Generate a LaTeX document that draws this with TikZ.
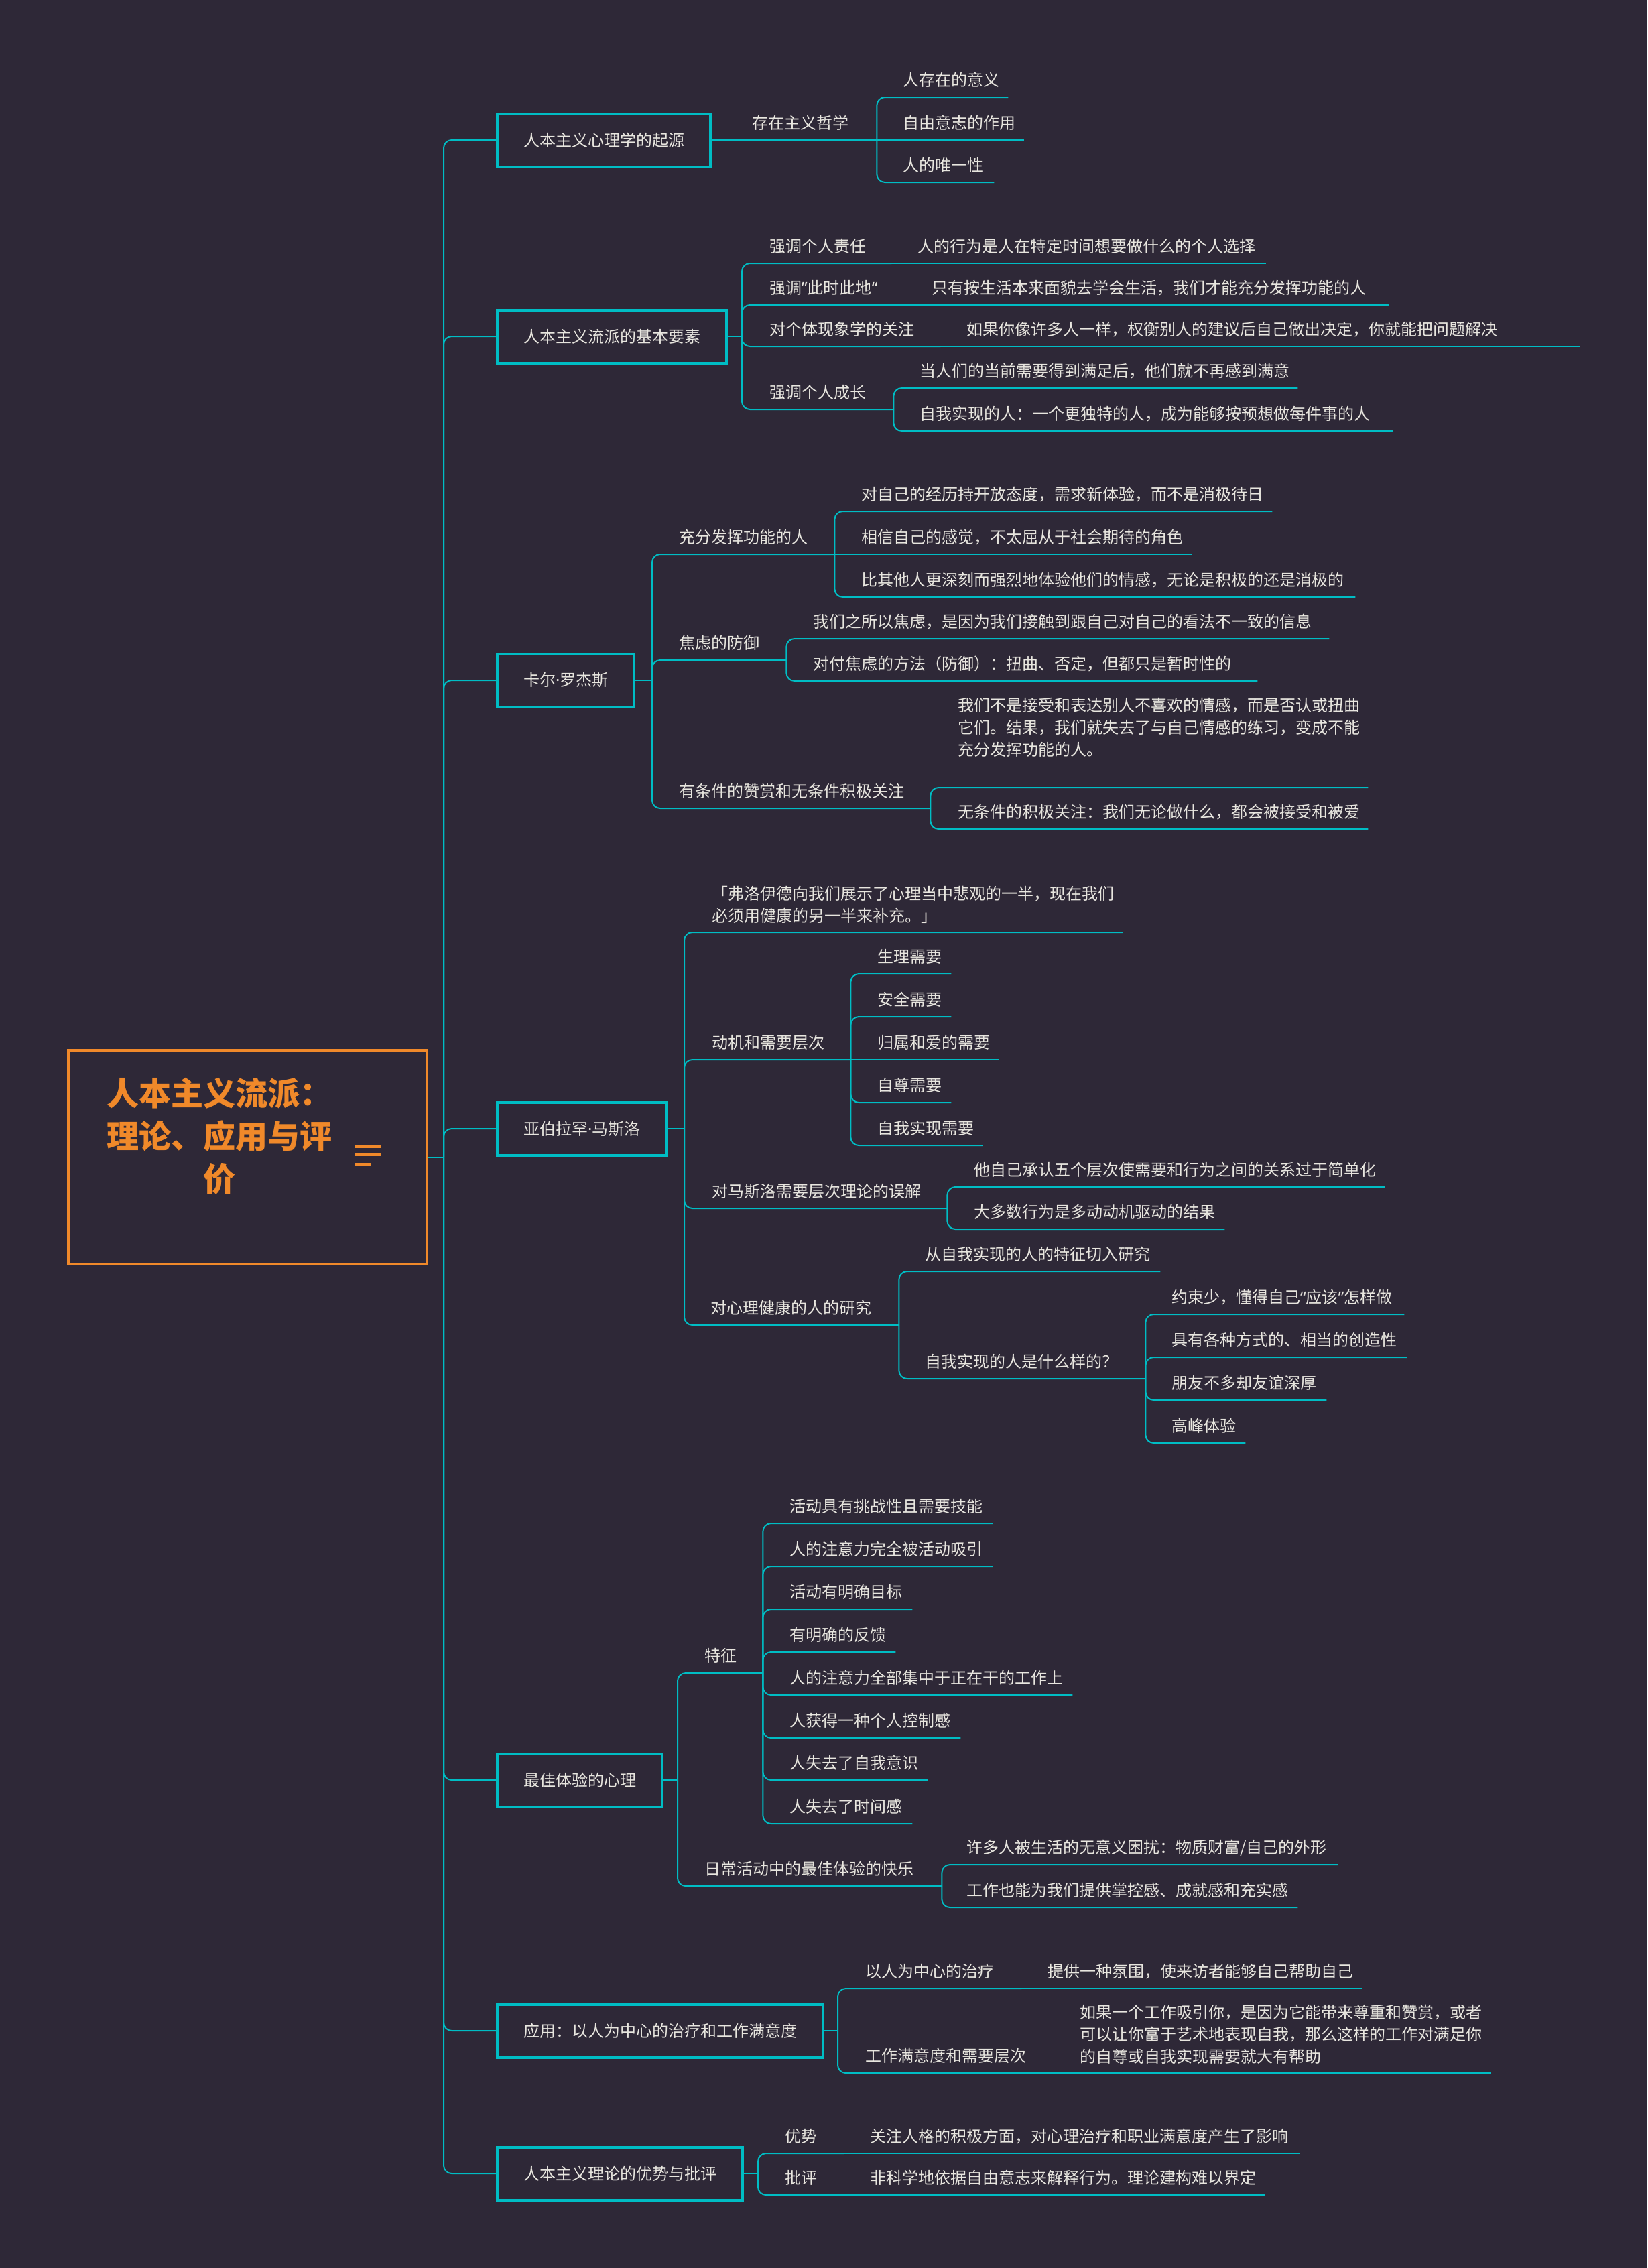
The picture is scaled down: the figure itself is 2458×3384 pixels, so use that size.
\documentclass[tikz,border=0pt]{standalone}
\usepackage{fontspec}
\usepackage{tikz}
\newfontfamily\cjk{Noto Sans CJK SC}
\newfontfamily\latf{Noto Sans}
\definecolor{mapbg}{HTML}{2E2837}
\definecolor{mapline}{HTML}{00BDC4}
\definecolor{maptext}{HTML}{E8E6DF}
\definecolor{maporange}{HTML}{F0892A}

\begin{document}
\begin{tikzpicture}[x=1pt, y=-1pt,
    link/.style={draw=mapline, line width=2pt, rounded corners=12pt},
    topic/.style={draw=mapline, line width=4pt, anchor=west, inner xsep=39pt, minimum height=79pt,
      text=maptext, font=\cjk\fontsize{24}{33}\selectfont},
    leaf/.style={anchor=south west, inner xsep=0pt, inner ysep=16pt, text depth=0pt, text width=#1,
      align=left, text=maptext, font=\cjk\fontsize{24}{33}\selectfont},
    para/.style={anchor=south west, inner xsep=0pt, inner ysep=13pt, text width=#1,
      align=left, text=maptext, font=\cjk\fontsize{24}{33}\selectfont}]
  \fill[mapbg] (0,0) rectangle (2458,3384);
  \useasboundingbox (0,0) rectangle (2458,3384);

  \node[draw=maporange, line width=4pt, minimum width=535pt, minimum height=319pt] (root) at (369.5,1726.5) {};
  \node[text=maporange, font=\cjk\bfseries\fontsize{48}{64}\selectfont, text width=340pt, align=center] (title) at (327,1695)
    {人本主义流派：\\理论、应用与评\\价};
  \draw[maporange, line width=4pt] (530,1711) -- (569,1711) (530,1723) -- (569,1723) (530,1737) -- (553,1737);

  \node[topic] (box1) at (740,209) {人本主义心理学的起源};
  \node[topic] (box2) at (740,502) {人本主义流派的基本要素};
  \node[topic] (box3) at (740,1015) {卡尔{\latf ·}罗杰斯};
  \node[topic] (box4) at (740,1684) {亚伯拉罕{\latf ·}马斯洛};
  \node[topic] (box5) at (740,2656) {最佳体验的心理};
  \node[topic] (box6) at (740,3030) {应用：以人为中心的治疗和工作满意度};
  \node[topic] (box7) at (740,3243) {人本主义理论的优势与批评};
  \coordinate (j0) at (662,1726.5);
  \draw[link] (root.east) -- (j0);
  \foreach \b in {1,...,7}
    \draw[link] (j0) |- (box\b.west);

  \node[leaf=186pt] (exist) at (1122,209) {存在主义哲学};
  \draw[link] (box1.east) -- (exist.south east);
  \foreach \n/\y/\w/\t in {1/145/157/人存在的意义, 2/209/181/自由意志的作用, 3/272/136/人的唯一性}
    \node[leaf=\w pt] (exist\n) at (1347,\y) {\t};
  \draw[link] (exist.south east) -- (exist2.south east);
  \foreach \n in {1,3}
    \draw[link] (exist.south east) |- (exist\n.south east);

  \coordinate (j2) at (1107,502);
  \draw[link] (box2.east) -- (j2);
  \node[leaf=182pt] (resp) at (1148,393) {强调个人责任};
  \node[leaf=520pt] (resp1) at (1369,393) {人的行为是人在特定时间想要做什么的个人选择};
  \node[leaf=203pt] (now) at (1148,455) {强调{\latf ”}此时此地{\latf “}};
  \node[leaf=682pt] (now1) at (1390,455) {只有按生活本来面貌去学会生活，我们才能充分发挥功能的人};
  \node[leaf=255pt] (phen) at (1148,517) {对个体现象学的关注};
  \node[leaf=915pt] (phen1) at (1442,517) {如果你像许多人一样，权衡别人的建议后自己做出决定，你就能把问题解决};
  \node[leaf=185pt] (grow) at (1148,611) {强调个人成长};
  \node[leaf=564pt] (grow1) at (1372,579) {当人们的当前需要得到满足后，他们就不再感到满意};
  \node[leaf=706pt] (grow2) at (1372,643) {自我实现的人：一个更独特的人，成为能够按预想做每件事的人};
  \foreach \c in {resp,now,phen,grow}
    \draw[link] (j2) |- (\c.south east);
  \foreach \c in {resp,now,phen}
    \draw[link] (\c.south east) -- (\c1.south east);
  \draw[link] (grow.south east) |- (grow1.south east);
  \draw[link] (grow.south east) |- (grow2.south east);

  \coordinate (j3) at (973,1015);
  \draw[link] (box3.east) -- (j3);
  \node[leaf=232pt] (func) at (1013,827) {充分发挥功能的人};
  \node[leaf=613pt] (func1) at (1285,763) {对自己的经历持开放态度，需求新体验，而不是消极待日};
  \node[leaf=493pt] (func2) at (1285,827) {相信自己的感觉，不太屈从于社会期待的角色};
  \node[leaf=737pt] (func3) at (1285,891) {比其他人更深刻而强烈地体验他们的情感，无论是积极的还是消极的};
  \node[leaf=160pt] (anx) at (1013,985) {焦虑的防御};
  \node[leaf=770pt] (anx1) at (1213,953) {我们之所以焦虑，是因为我们接触到跟自己对自己的看法不一致的信息};
  \node[leaf=663pt] (anx2) at (1213,1016) {对付焦虑的方法（防御）：扭曲、否定，但都只是暂时性的};
  \node[leaf=375pt] (cond) at (1013,1206) {有条件的赞赏和无条件积极关注};
  \node[para=612pt, inner ysep=45pt] (cond1) at (1429,1175)
    {我们不是接受和表达别人不喜欢的情感，而是否认或扭曲\\它们。结果，我们就失去了与自己情感的练习，变成不能\\充分发挥功能的人。};
  \node[leaf=612pt] (cond2) at (1429,1237) {无条件的积极关注：我们无论做什么，都会被接受和被爱};
  \foreach \c in {func,anx,cond}
    \draw[link] (j3) |- (\c.south east);
  \draw[link] (func.south east) -- (func2.south east);
  \foreach \c in {func1,func3}
    \draw[link] (func.south east) |- (\c.south east);
  \foreach \c in {anx1,anx2}
    \draw[link] (anx.south east) |- (\c.south east);
  \foreach \c in {cond1,cond2}
    \draw[link] (cond.south east) |- (\c.south east);

  \coordinate (j4) at (1021,1684);
  \draw[link] (box4.east) -- (j4);
  \node[para=613pt] (freud) at (1062,1391)
    {「弗洛伊德向我们展示了心理当中悲观的一半，现在我们\\必须用健康的另一半来补充。」};
  \node[leaf=207pt] (motive) at (1062,1581) {动机和需要层次};
  \foreach \n/\y/\w/\t in {1/1453/110/生理需要, 2/1517/110/安全需要, 3/1581/181/归属和爱的需要,
      4/1645/110/自尊需要, 5/1709/157/自我实现需要}
    \node[leaf=\w pt] (need\n) at (1309,\y) {\t};
  \node[leaf=351pt] (misread) at (1062,1803) {对马斯洛需要层次理论的误解};
  \node[leaf=613pt] (misread1) at (1453,1771) {他自己承认五个层次使需要和行为之间的关系过于简单化};
  \node[leaf=374pt] (misread2) at (1453,1834) {大多数行为是多动动机驱动的结果};
  \node[leaf=281pt] (health) at (1060,1977) {对心理健康的人的研究};
  \node[leaf=351pt] (study) at (1380,1897) {从自我实现的人的特征切入研究};
  \node[leaf=329pt] (whatlike) at (1380,2057) {自我实现的人是什么样的？};
  \foreach \n/\y/\w/\t in {1/1961/347/约束少，懂得自己{\latf “}应该{\latf ”}怎样做, 2/2025/351/具有各种方式的、相当的创造性,
      3/2089/231/朋友不多却友谊深厚, 4/2153/110/高峰体验}
    \node[leaf=\w pt] (trait\n) at (1748,\y) {\t};
  \foreach \c in {freud,motive,misread,health}
    \draw[link] (j4) |- (\c.south east);
  \draw[link] (motive.south east) -- (need3.south east);
  \foreach \n in {1,2,4,5}
    \draw[link] (motive.south east) |- (need\n.south east);
  \foreach \c in {misread1,misread2}
    \draw[link] (misread.south east) |- (\c.south east);
  \foreach \c in {study,whatlike}
    \draw[link] (health.south east) |- (\c.south east);
  \foreach \n in {1,...,4}
    \draw[link] (whatlike.south east) |- (trait\n.south east);

  \coordinate (j5) at (1011,2656);
  \draw[link] (box5.east) -- (j5);
  \node[leaf=87pt] (feat) at (1051,2496) {特征};
  \foreach \n/\y/\w/\t in {1/2273/303/活动具有挑战性且需要技能, 2/2337/303/人的注意力完全被活动吸引,
      3/2401/183/活动有明确目标, 4/2465/158/有明确的反馈, 5/2529/422/人的注意力全部集中于正在干的工作上,
      6/2593/255/人获得一种个人控制感, 7/2656/206/人失去了自我意识, 8/2721/183/人失去了时间感}
    \node[leaf=\w pt] (feat\n) at (1178,\y) {\t};
  \node[leaf=354pt] (daily) at (1051,2814) {日常活动中的最佳体验的快乐};
  \node[leaf=554pt] (daily1) at (1442,2782) {许多人被生活的无意义困扰：物质财富/自己的外形};
  \node[leaf=494pt] (daily2) at (1442,2846) {工作也能为我们提供掌控感、成就感和充实感};
  \foreach \c in {feat,daily}
    \draw[link] (j5) |- (\c.south east);
  \foreach \n in {1,...,8}
    \draw[link] (feat.south east) |- (feat\n.south east);
  \foreach \c in {daily1,daily2}
    \draw[link] (daily.south east) |- (\c.south east);

  \coordinate (j6) at (1250,3030);
  \draw[link] (box6.east) -- (j6);
  \node[leaf=233pt] (ther) at (1291,2967) {以人为中心的治疗};
  \node[leaf=470pt] (ther1) at (1563,2967) {提供一种氛围，使来访者能够自己帮助自己};
  \node[leaf=281pt] (sat) at (1291,3093) {工作满意度和需要层次};
  \node[para=613pt] (sat1) at (1611,3093)
    {如果一个工作吸引你，是因为它能带来尊重和赞赏，或者\\可以让你富于艺术地表现自我，那么这样的工作对满足你\\的自尊或自我实现需要就大有帮助};
  \foreach \c in {ther,sat}
    \draw[link] (j6) |- (\c.south east);
  \foreach \c in {ther,sat}
    \draw[link] (\c.south east) -- (\c1.south east);

  \coordinate (j7) at (1131,3243);
  \draw[link] (box7.east) -- (j7);
  \node[leaf=88pt] (pro) at (1171,3213) {优势};
  \node[leaf=641pt] (pro1) at (1298,3213) {关注人格的积极方面，对心理治疗和职业满意度产生了影响};
  \node[leaf=88pt] (con) at (1171,3275) {批评};
  \node[leaf=589pt] (con1) at (1298,3275) {非科学地依据自由意志来解释行为。理论建构难以界定};
  \foreach \c in {pro,con}
    \draw[link] (j7) |- (\c.south east);
  \foreach \c in {pro,con}
    \draw[link] (\c.south east) -- (\c1.south east);
\end{tikzpicture}
\end{document}
